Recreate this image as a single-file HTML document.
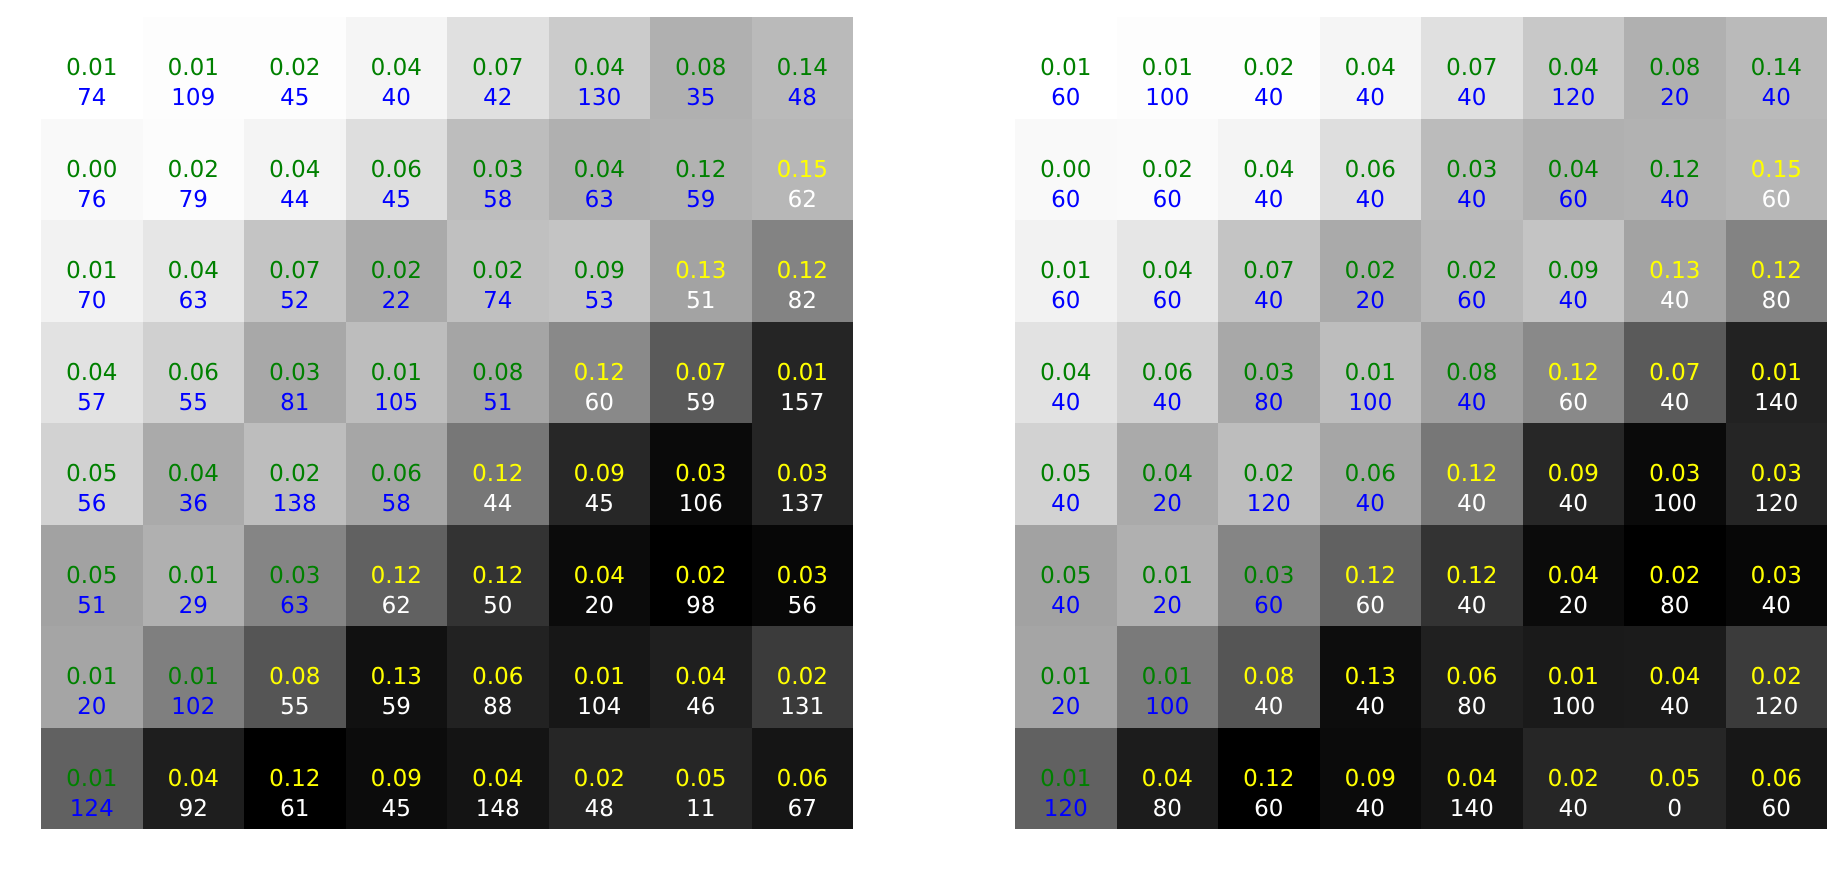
<!DOCTYPE html>
<html><head><meta charset="utf-8"><style>
body{margin:0;width:1844px;height:876px;background:#fff;overflow:hidden;font-family:"DejaVu Sans","Liberation Sans",sans-serif;}
.g{position:absolute;top:17px;width:812px;height:812px;display:grid;grid-template-columns:repeat(8,1fr);grid-template-rows:repeat(8,1fr);}
.g div{text-align:center;font-size:23px;line-height:30px;padding-top:36px;box-sizing:border-box;}
.g i{display:block;font-style:normal;color:#008000}
.g b{display:block;font-weight:normal;color:#0000ff}
.g .d i{color:#ffff00}.g .d b{color:#fff}
</style></head><body>
<div class="g" style="left:41px">
<div style="background:#fff"><i>0.01</i><b>74</b></div><div style="background:#fdfdfd"><i>0.01</i><b>109</b></div><div style="background:#fdfdfd"><i>0.02</i><b>45</b></div><div style="background:#f5f5f5"><i>0.04</i><b>40</b></div><div style="background:#e0e0e0"><i>0.07</i><b>42</b></div><div style="background:#cbcbcb"><i>0.04</i><b>130</b></div><div style="background:#b0b0b0"><i>0.08</i><b>35</b></div><div style="background:#bababa"><i>0.14</i><b>48</b></div>
<div style="background:#f9f9f9"><i>0.00</i><b>76</b></div><div style="background:#fcfcfc"><i>0.02</i><b>79</b></div><div style="background:#f4f4f4"><i>0.04</i><b>44</b></div><div style="background:#dedede"><i>0.06</i><b>45</b></div><div style="background:#bdbdbd"><i>0.03</i><b>58</b></div><div style="background:#b0b0b0"><i>0.04</i><b>63</b></div><div style="background:#b2b2b2"><i>0.12</i><b>59</b></div><div class="d" style="background:#b7b7b7"><i>0.15</i><b>62</b></div>
<div style="background:#f2f2f2"><i>0.01</i><b>70</b></div><div style="background:#e6e6e6"><i>0.04</i><b>63</b></div><div style="background:#c4c4c4"><i>0.07</i><b>52</b></div><div style="background:#aaaaaa"><i>0.02</i><b>22</b></div><div style="background:#c0c0c0"><i>0.02</i><b>74</b></div><div style="background:#c4c4c4"><i>0.09</i><b>53</b></div><div class="d" style="background:#a3a3a3"><i>0.13</i><b>51</b></div><div class="d" style="background:#838383"><i>0.12</i><b>82</b></div>
<div style="background:#e2e2e2"><i>0.04</i><b>57</b></div><div style="background:#d0d0d0"><i>0.06</i><b>55</b></div><div style="background:#a8a8a8"><i>0.03</i><b>81</b></div><div style="background:#bdbdbd"><i>0.01</i><b>105</b></div><div style="background:#a5a5a5"><i>0.08</i><b>51</b></div><div class="d" style="background:#898989"><i>0.12</i><b>60</b></div><div class="d" style="background:#5a5a5a"><i>0.07</i><b>59</b></div><div class="d" style="background:#252525"><i>0.01</i><b>157</b></div>
<div style="background:#d2d2d2"><i>0.05</i><b>56</b></div><div style="background:#aaaaaa"><i>0.04</i><b>36</b></div><div style="background:#bdbdbd"><i>0.02</i><b>138</b></div><div style="background:#a6a6a6"><i>0.06</i><b>58</b></div><div class="d" style="background:#777777"><i>0.12</i><b>44</b></div><div class="d" style="background:#272727"><i>0.09</i><b>45</b></div><div class="d" style="background:#0a0a0a"><i>0.03</i><b>106</b></div><div class="d" style="background:#252525"><i>0.03</i><b>137</b></div>
<div style="background:#a2a2a2"><i>0.05</i><b>51</b></div><div style="background:#b0b0b0"><i>0.01</i><b>29</b></div><div style="background:#858585"><i>0.03</i><b>63</b></div><div class="d" style="background:#616161"><i>0.12</i><b>62</b></div><div class="d" style="background:#333333"><i>0.12</i><b>50</b></div><div class="d" style="background:#0b0b0b"><i>0.04</i><b>20</b></div><div class="d" style="background:#000"><i>0.02</i><b>98</b></div><div class="d" style="background:#070707"><i>0.03</i><b>56</b></div>
<div style="background:#a5a5a5"><i>0.01</i><b>20</b></div><div style="background:#7f7f7f"><i>0.01</i><b>102</b></div><div class="d" style="background:#555555"><i>0.08</i><b>55</b></div><div class="d" style="background:#111111"><i>0.13</i><b>59</b></div><div class="d" style="background:#222222"><i>0.06</i><b>88</b></div><div class="d" style="background:#171717"><i>0.01</i><b>104</b></div><div class="d" style="background:#1f1f1f"><i>0.04</i><b>46</b></div><div class="d" style="background:#3b3b3b"><i>0.02</i><b>131</b></div>
<div style="background:#616161"><i>0.01</i><b>124</b></div><div class="d" style="background:#1e1e1e"><i>0.04</i><b>92</b></div><div class="d" style="background:#000"><i>0.12</i><b>61</b></div><div class="d" style="background:#0c0c0c"><i>0.09</i><b>45</b></div><div class="d" style="background:#141414"><i>0.04</i><b>148</b></div><div class="d" style="background:#262626"><i>0.02</i><b>48</b></div><div class="d" style="background:#262626"><i>0.05</i><b>11</b></div><div class="d" style="background:#151515"><i>0.06</i><b>67</b></div>
</div>
<div class="g" style="left:1015px">
<div style="background:#fff"><i>0.01</i><b>60</b></div><div style="background:#fdfdfd"><i>0.01</i><b>100</b></div><div style="background:#fdfdfd"><i>0.02</i><b>40</b></div><div style="background:#f5f5f5"><i>0.04</i><b>40</b></div><div style="background:#e0e0e0"><i>0.07</i><b>40</b></div><div style="background:#c8c8c8"><i>0.04</i><b>120</b></div><div style="background:#b0b0b0"><i>0.08</i><b>20</b></div><div style="background:#bababa"><i>0.14</i><b>40</b></div>
<div style="background:#f9f9f9"><i>0.00</i><b>60</b></div><div style="background:#fafafa"><i>0.02</i><b>60</b></div><div style="background:#f4f4f4"><i>0.04</i><b>40</b></div><div style="background:#dedede"><i>0.06</i><b>40</b></div><div style="background:#bbbbbb"><i>0.03</i><b>40</b></div><div style="background:#b0b0b0"><i>0.04</i><b>60</b></div><div style="background:#b2b2b2"><i>0.12</i><b>40</b></div><div class="d" style="background:#b7b7b7"><i>0.15</i><b>60</b></div>
<div style="background:#f2f2f2"><i>0.01</i><b>60</b></div><div style="background:#e6e6e6"><i>0.04</i><b>60</b></div><div style="background:#c4c4c4"><i>0.07</i><b>40</b></div><div style="background:#aaaaaa"><i>0.02</i><b>20</b></div><div style="background:#b8b8b8"><i>0.02</i><b>60</b></div><div style="background:#c4c4c4"><i>0.09</i><b>40</b></div><div class="d" style="background:#a3a3a3"><i>0.13</i><b>40</b></div><div class="d" style="background:#838383"><i>0.12</i><b>80</b></div>
<div style="background:#e2e2e2"><i>0.04</i><b>40</b></div><div style="background:#d0d0d0"><i>0.06</i><b>40</b></div><div style="background:#a8a8a8"><i>0.03</i><b>80</b></div><div style="background:#bdbdbd"><i>0.01</i><b>100</b></div><div style="background:#a0a0a0"><i>0.08</i><b>40</b></div><div class="d" style="background:#898989"><i>0.12</i><b>60</b></div><div class="d" style="background:#5a5a5a"><i>0.07</i><b>40</b></div><div class="d" style="background:#222222"><i>0.01</i><b>140</b></div>
<div style="background:#d2d2d2"><i>0.05</i><b>40</b></div><div style="background:#aaaaaa"><i>0.04</i><b>20</b></div><div style="background:#bdbdbd"><i>0.02</i><b>120</b></div><div style="background:#a6a6a6"><i>0.06</i><b>40</b></div><div class="d" style="background:#777777"><i>0.12</i><b>40</b></div><div class="d" style="background:#272727"><i>0.09</i><b>40</b></div><div class="d" style="background:#0a0a0a"><i>0.03</i><b>100</b></div><div class="d" style="background:#252525"><i>0.03</i><b>120</b></div>
<div style="background:#a2a2a2"><i>0.05</i><b>40</b></div><div style="background:#b0b0b0"><i>0.01</i><b>20</b></div><div style="background:#858585"><i>0.03</i><b>60</b></div><div class="d" style="background:#616161"><i>0.12</i><b>60</b></div><div class="d" style="background:#333333"><i>0.12</i><b>40</b></div><div class="d" style="background:#0b0b0b"><i>0.04</i><b>20</b></div><div class="d" style="background:#000"><i>0.02</i><b>80</b></div><div class="d" style="background:#070707"><i>0.03</i><b>40</b></div>
<div style="background:#a5a5a5"><i>0.01</i><b>20</b></div><div style="background:#7a7a7a"><i>0.01</i><b>100</b></div><div class="d" style="background:#555555"><i>0.08</i><b>40</b></div><div class="d" style="background:#0d0d0d"><i>0.13</i><b>40</b></div><div class="d" style="background:#202020"><i>0.06</i><b>80</b></div><div class="d" style="background:#1a1a1a"><i>0.01</i><b>100</b></div><div class="d" style="background:#1b1b1b"><i>0.04</i><b>40</b></div><div class="d" style="background:#3b3b3b"><i>0.02</i><b>120</b></div>
<div style="background:#616161"><i>0.01</i><b>120</b></div><div class="d" style="background:#1c1c1c"><i>0.04</i><b>80</b></div><div class="d" style="background:#000"><i>0.12</i><b>60</b></div><div class="d" style="background:#0b0b0b"><i>0.09</i><b>40</b></div><div class="d" style="background:#141414"><i>0.04</i><b>140</b></div><div class="d" style="background:#262626"><i>0.02</i><b>40</b></div><div class="d" style="background:#262626"><i>0.05</i><b>0</b></div><div class="d" style="background:#171717"><i>0.06</i><b>60</b></div>
</div>
</body></html>
